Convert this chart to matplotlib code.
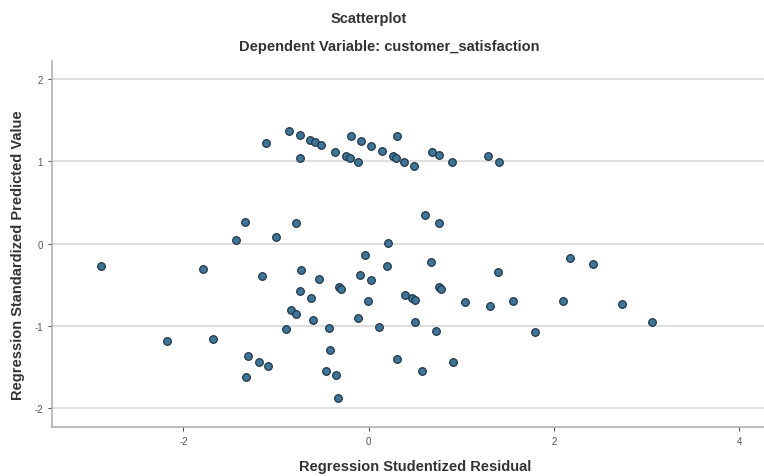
import matplotlib
matplotlib.use("Agg")
from matplotlib import pyplot as plt

plt.rcParams['font.family'] = ['Liberation Sans', 'DejaVu Sans']
plt.rcParams['axes.unicode_minus'] = False

# Regression Studentized Residual (x) and Regression Standardized Predicted Value (y)
residual = [
    -1.104, -0.863, -0.744, -0.744, -0.636, -0.575, -0.518, -0.361, -0.241, -0.205,
    -0.115, -0.194, -0.086, 0.027, 0.146, 0.262, 0.299, 0.305, 0.383, 0.491,
    0.683, 0.755, 0.901, 1.287, 1.413,
    -2.891, -1.787, -1.435, -1.338, -0.996, -0.780, -1.147, -0.726, -0.539, -0.320,
    -0.297, -0.097, -0.043, -0.737, -0.618, -0.834, -0.780, -0.601, -0.115, -0.003,
    -0.895, -0.431, -2.176, -1.683, -1.302, -1.183, -1.082, -1.330, -0.421, -0.456,
    -0.356, -0.331, 0.604, 0.758, 0.208, 0.202, 0.676, 0.029, 0.388, 0.471,
    0.496, 0.755, 0.777, 1.046, 1.316, 1.392, 1.564, 2.104, 2.172, 2.420,
    2.737, 3.060, 1.801, 0.108, 0.504, 0.726, 0.305, 0.914, 0.579,
]
predicted = [
    1.223, 1.372, 1.320, 1.040, 1.259, 1.231, 1.202, 1.117, 1.061, 1.036,
    0.995, 1.308, 1.247, 1.192, 1.122, 1.068, 1.040, 1.314, 0.998, 0.943,
    1.109, 1.083, 0.998, 1.061, 0.998,
    -0.270, -0.307, 0.046, 0.265, 0.075, 0.249, -0.395, -0.322, -0.432, -0.533,
    -0.547, -0.387, -0.140, -0.582, -0.657, -0.809, -0.858, -0.931, -0.910, -0.696,
    -1.034, -1.022, -1.182, -1.162, -1.369, -1.442, -1.487, -1.624, -1.296, -1.547,
    -1.600, -1.880, 0.347, 0.253, 0.002, -0.268, -0.219, -0.444, -0.620, -0.667,
    -0.684, -0.533, -0.554, -0.712, -0.764, -0.343, -0.696, -0.700, -0.180, -0.253,
    -0.736, -0.951, -1.080, -1.016, -0.959, -1.058, -1.401, -1.445, -1.547,
]

x_ticks = [-2, 0, 2, 4]
y_ticks = [-2, -1, 0, 1, 2]

W, H = 764, 477
fig = plt.figure(figsize=(W / 100, H / 100), dpi=100)
ax = fig.add_axes([52 / W, 49 / H, 1 - 52 / W, (428 - 62) / H])

for yt in y_ticks:
    ax.axhline(yt, color="#d9d9d9", linewidth=1.2, zorder=1)

ax.scatter(residual, predicted, s=30, color="#3f7596", edgecolors="#22364a",
           linewidths=0.9, zorder=3)

ax.set_xlim(-3.42, 4.27)
ax.set_ylim(-2.23, 2.22)
ax.set_xticks(x_ticks)
ax.set_yticks(y_ticks)
ax.tick_params(labelsize=7, colors="#555555", length=3, width=0.8)

for side in ['top', 'right']:
    ax.spines[side].set_visible(False)
for side in ['left', 'bottom']:
    ax.spines[side].set_color("#b0b0b0")
    ax.spines[side].set_linewidth(1.2)

label_style = dict(fontsize=10.5, fontweight="bold", color="#333333")
fig.text(415 / W, 1 - 467 / H, "Regression Studentized Residual", ha="center", va="center", **label_style)
fig.text(18 / W, 1 - 255 / H, "Regression Standardized Predicted Value", ha="center", va="center",
         rotation=90, **label_style)

fig.text(369 / W, 1 - 19 / H, "Scatterplot", ha="center", va="center", **label_style)
fig.text(389 / W, 1 - 47 / H, "Dependent Variable: customer_satisfaction",
         ha="center", va="center", **label_style)

fig.savefig("out.png", dpi=100)
